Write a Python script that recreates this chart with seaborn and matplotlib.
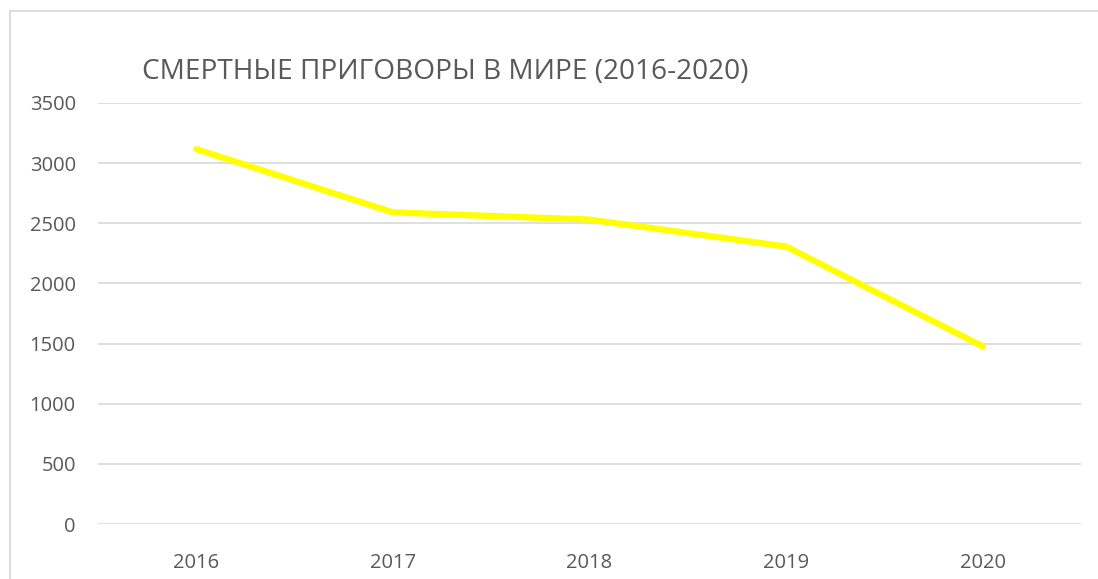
import matplotlib
matplotlib.use("Agg")
import matplotlib.pyplot as plt
import seaborn as sns
import pandas as pd
from matplotlib.patches import Rectangle

# data
years = ["2016", "2017", "2018", "2019", "2020"]
sentences = [3117, 2591, 2531, 2307, 1477]
y_ticks = [0, 500, 1000, 1500, 2000, 2500, 3000, 3500]
title = "СМЕРТНЫЕ ПРИГОВОРЫ В МИРЕ (2016-2020)"

sns.set_style("white")
plt.rcParams['font.family'] = ['Open Sans', 'DejaVu Sans']

GRID = "#d9d9d9"
TEXT = "#595959"

df = pd.DataFrame({"pos": range(len(years)), "value": sentences})

fig = plt.figure(figsize=(10.98, 5.79), dpi=100)
ax = fig.add_axes([98 / 1098, 1 - 524 / 579, (1081 - 98) / 1098, (524 - 103) / 579])

sns.lineplot(data=df, x="pos", y="value", ax=ax, color="#ffff00",
             linewidth=4.5, solid_capstyle="round", solid_joinstyle="round")

ax.set_xlim(-0.5, len(years) - 0.5)
ax.set_ylim(0, 3500)
ax.set_xticks(range(len(years)))
ax.set_xticklabels(years)
ax.set_yticks(y_ticks)
ax.set_xlabel("")
ax.set_ylabel("")
ax.grid(axis="y", color=GRID, linewidth=1.2)
ax.set_axisbelow(True)
for s in ax.spines.values():
    s.set_visible(False)
ax.tick_params(axis="both", length=0, labelsize=14.5, colors=TEXT)
ax.tick_params(axis="y", pad=16)
ax.tick_params(axis="x", pad=21)

fig.text(142 / 1098, 1 - 72 / 579, title, fontsize=20.2, color=TEXT,
         ha="left", va="center")

# chart border (only top/left visible in crop)
fig.patches.append(Rectangle((9.5 / 1098, -0.1), 1.2, 0.1 + 1 - 10.5 / 579,
                             transform=fig.transFigure, fill=False,
                             edgecolor=GRID, linewidth=1.3))

fig.savefig("out.png", dpi=100)
